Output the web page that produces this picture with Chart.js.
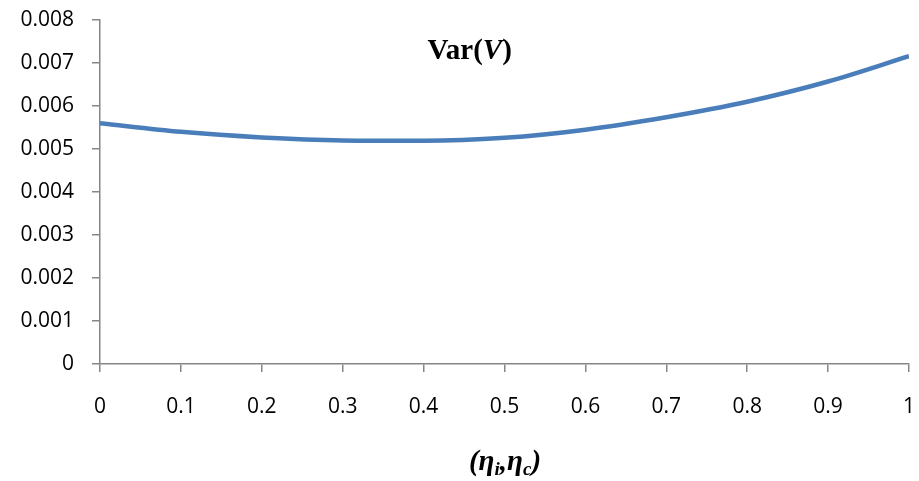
<!DOCTYPE html>
<html>
<head>
<meta charset="utf-8">
<script src="https://cdn.jsdelivr.net/npm/chart.js@4/dist/chart.umd.min.js"></script>
<style>
  html, body { margin: 0; padding: 0; background: #fff; }
  #wrap { width: 919px; height: 481px; }
</style>
</head>
<body>
<div id="wrap"><canvas id="var_chart" width="919" height="481"></canvas></div>
<script>
// data
var eta_values = [0, 0.1, 0.2, 0.3, 0.4, 0.5, 0.6, 0.7, 0.8, 0.9, 1.0];
var var_values = [0.00560, 0.00540, 0.00527, 0.00520, 0.00519, 0.00526, 0.00545, 0.00574, 0.00610, 0.00657, 0.00716];
var y_ticks = [0, 0.001, 0.002, 0.003, 0.004, 0.005, 0.006, 0.007, 0.008];
var x_ticks = [0, 0.1, 0.2, 0.3, 0.4, 0.5, 0.6, 0.7, 0.8, 0.9, 1];

var axis_grey = '#868686';
var tick_font = { family: '"Open Sans", sans-serif', size: 21 };

function draw_runs(ctx, runs, cx, cy)
{
  // runs: [text, font, dy]
  var total = 0;
  for (var i = 0; i < runs.length; i++) {
    ctx.font = runs[i][1];
    total += ctx.measureText(runs[i][0]).width;
  }
  var x = cx - total / 2;
  for (var i = 0; i < runs.length; i++) {
    ctx.font = runs[i][1];
    ctx.fillText(runs[i][0], x, cy + (runs[i][2] || 0));
    x += ctx.measureText(runs[i][0]).width;
  }
}

var labels_plugin = {
  id: 'labels_plugin',
  afterDraw: function (chart) {
    var ctx = chart.ctx;
    var area = chart.chartArea;
    ctx.save();
    ctx.fillStyle = '#000';
    ctx.textBaseline = 'alphabetic';
    var serif = '"Liberation Serif", "Times New Roman", serif';
    // series title inside the plot
    draw_runs(ctx, [
      ['Var(', 'bold 29px ' + serif],
      ['V', 'italic bold 29px ' + serif],
      [')', 'bold 29px ' + serif]
    ], area.left + (area.right - area.left) * 0.457, 59);
    // x axis title
    draw_runs(ctx, [
      ['(\u03B7', 'italic bold 29px ' + serif],
      ['i', 'italic bold 19px ' + serif, 5],
      [',\u03B7', 'italic bold 29px ' + serif],
      ['c', 'italic bold 19px ' + serif, 5],
      [')', 'italic bold 29px ' + serif]
    ], 505, 470);
    ctx.restore();
  }
};

var chart_config = {
  type: 'line',
  data: {
    datasets: [{
      data: eta_values.map(function (x, i) { return { x: x, y: var_values[i] }; }),
      borderColor: '#4a7ebb',
      borderWidth: 4.5,
      pointRadius: 0,
      fill: false,
      cubicInterpolationMode: 'monotone'
    }]
  },
  options: {
    responsive: false,
    animation: false,
    layout: { padding: { left: 0, top: 20, right: 10, bottom: 0 } },
    plugins: { legend: { display: false }, tooltip: { enabled: false } },
    scales: {
      x: {
        type: 'linear',
        min: 0,
        max: 1,
        afterBuildTicks: function (s) { s.ticks = x_ticks.map(function (v) { return { value: v }; }); },
        afterFit: function (s) { s.height = 117; s.paddingLeft = 0; s.paddingRight = 0; },
        ticks: {
          color: '#000',
          font: tick_font,
          padding: 22,
          maxRotation: 0,
          callback: function (v) { return String(v); }
        },
        grid: { display: true, drawOnChartArea: false, drawTicks: true, tickLength: 8, color: axis_grey, lineWidth: 1.5 },
        border: { display: true, color: axis_grey, width: 1.5 }
      },
      y: {
        type: 'linear',
        min: 0,
        max: 0.008,
        afterBuildTicks: function (s) { s.ticks = y_ticks.map(function (v) { return { value: v }; }); },
        afterFit: function (s) { s.width = 100; s.paddingTop = 0; s.paddingBottom = 0; },
        ticks: {
          color: '#000',
          font: tick_font,
          padding: 18,
          callback: function (v) { return v === 0 ? '0' : v.toFixed(3); }
        },
        grid: { display: true, drawOnChartArea: false, drawTicks: true, tickLength: 8, color: axis_grey, lineWidth: 1.5 },
        border: { display: true, color: axis_grey, width: 1.5 }
      }
    }
  },
  plugins: [labels_plugin]
};

window.onload = function ()
{
  var ctx = document.getElementById('var_chart').getContext('2d');
  var var_chart = new Chart(ctx, chart_config);
};
</script>
</body>
</html>
